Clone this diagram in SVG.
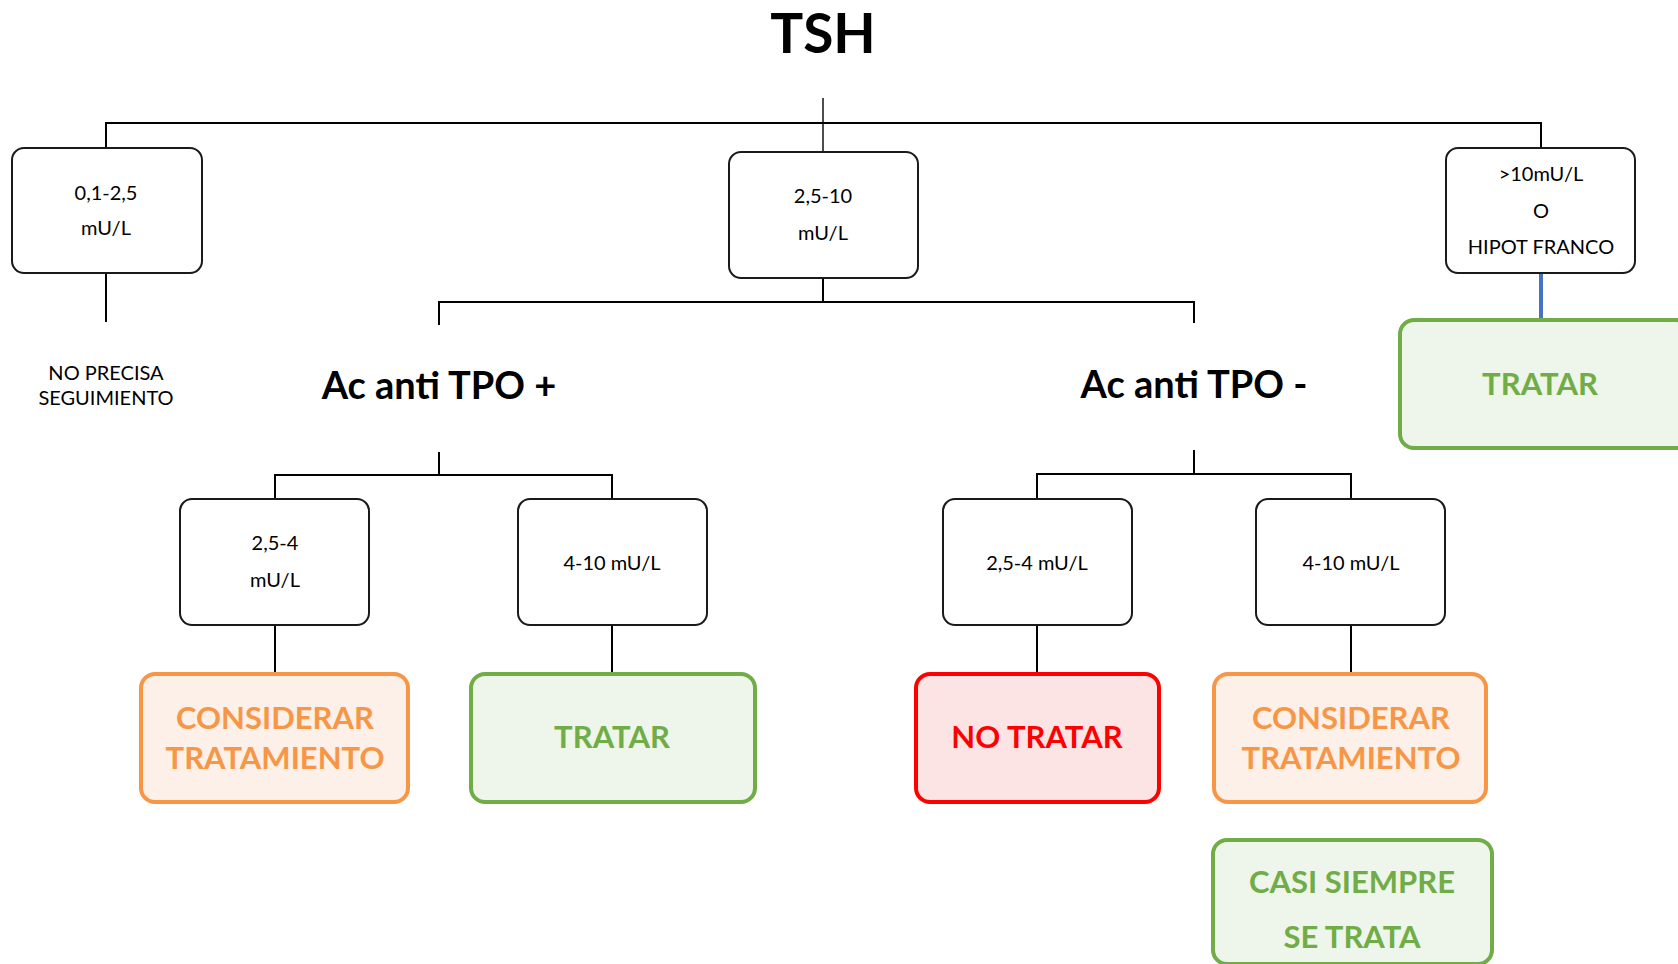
<svg xmlns="http://www.w3.org/2000/svg" width="1678" height="964" viewBox="0 0 1678 964">
<style>
.t{font-family:Lato,"Open Sans","Liberation Sans",sans-serif;text-anchor:middle;fill:#000}
.s{font-size:20px}
.h{font-size:38px;font-weight:bold}
.b{font-size:31px;font-weight:bold}
.box{fill:#fff;stroke:#1a1a1a;stroke-width:2}
.or{fill:#fcf0e8;stroke:#f79646;stroke-width:4}
.gr{fill:#eef5ea;stroke:#70ad47;stroke-width:4}
.rd{fill:#fde4e4;stroke:#ff0000;stroke-width:4}
.ot{fill:#f79646}
.gt{fill:#70ad47}
.rt{fill:#ff0000}
.c{fill:none;stroke:#000;stroke-width:2}
</style>
<rect width="1678" height="964" fill="#fff"/>
<g id="connectors">
<path class="c" d="M823 98V152" style="stroke-width:1.4"/>
<path class="c" d="M106 148V123H1541V148"/>
<path class="c" d="M106 273V322"/>
<path class="c" d="M823 278V302M439 325V302H1194V323"/>
<path class="c" d="M439 452V475M275 499V475H612V499"/>
<path class="c" d="M1194 450V474M1037 499V474H1351V499"/>
<path class="c" d="M275 625V673M612 625V673M1037 625V673M1351 625V673"/>
<path d="M1541 273V320" stroke="#4472c4" stroke-width="4" fill="none"/>
</g>
<g id="title"><text class="t" x="823" y="53" style="font-size:55px;font-weight:bold">TSH</text></g>
<g id="n1"><rect class="box" x="12" y="148" width="190" height="125" rx="12"/>
<text class="t s" x="106" y="200">0,1-2,5</text><text class="t s" x="106" y="235">mU/L</text></g>
<g id="n1r"><text class="t s" x="106" y="380">NO PRECISA</text><text class="t s" x="106" y="405">SEGUIMIENTO</text></g>
<g id="n2"><rect class="box" x="729" y="152" width="189" height="126" rx="12"/>
<text class="t s" x="823" y="203">2,5-10</text><text class="t s" x="823" y="240">mU/L</text></g>
<g id="n3"><rect class="box" x="1446" y="148" width="189" height="125" rx="12"/>
<text class="t s" x="1541" y="181">&gt;10mU/L</text><text class="t s" x="1541" y="218">O</text><text class="t s" x="1541" y="254">HIPOT FRANCO</text></g>
<g id="n3r"><rect class="gr" x="1400" y="320" width="290" height="128" rx="14"/>
<text class="t b gt" x="1540" y="395">TRATAR</text></g>
<g id="pos"><text class="t h" x="439" y="399">Ac anti TPO +</text></g>
<g id="neg"><text class="t h" x="1194" y="398">Ac anti TPO -</text></g>
<g id="p1"><rect class="box" x="180" y="499" width="189" height="126" rx="12"/>
<text class="t s" x="275" y="550">2,5-4</text><text class="t s" x="275" y="587">mU/L</text></g>
<g id="p2"><rect class="box" x="518" y="499" width="189" height="126" rx="12"/>
<text class="t s" x="612" y="570">4-10 mU/L</text></g>
<g id="q1"><rect class="box" x="943" y="499" width="189" height="126" rx="12"/>
<text class="t s" x="1037" y="570">2,5-4 mU/L</text></g>
<g id="q2"><rect class="box" x="1256" y="499" width="189" height="126" rx="12"/>
<text class="t s" x="1351" y="570">4-10 mU/L</text></g>
<g id="p1r"><rect class="or" x="141" y="674" width="267" height="128" rx="14"/>
<text class="t b ot" x="275" y="729">CONSIDERAR</text><text class="t b ot" x="275" y="769">TRATAMIENTO</text></g>
<g id="p2r"><rect class="gr" x="471" y="674" width="284" height="128" rx="14"/>
<text class="t b gt" x="612" y="748">TRATAR</text></g>
<g id="q1r"><rect class="rd" x="916" y="674" width="243" height="128" rx="14"/>
<text class="t b rt" x="1037" y="748">NO TRATAR</text></g>
<g id="q2r"><rect class="or" x="1214" y="674" width="272" height="128" rx="14"/>
<text class="t b ot" x="1351" y="729">CONSIDERAR</text><text class="t b ot" x="1351" y="769">TRATAMIENTO</text></g>
<g id="q2r2"><rect class="gr" x="1213" y="840" width="279" height="124" rx="14"/>
<text class="t b gt" x="1352" y="893">CASI SIEMPRE</text><text class="t b gt" x="1352" y="948">SE TRATA</text></g>
</svg>
